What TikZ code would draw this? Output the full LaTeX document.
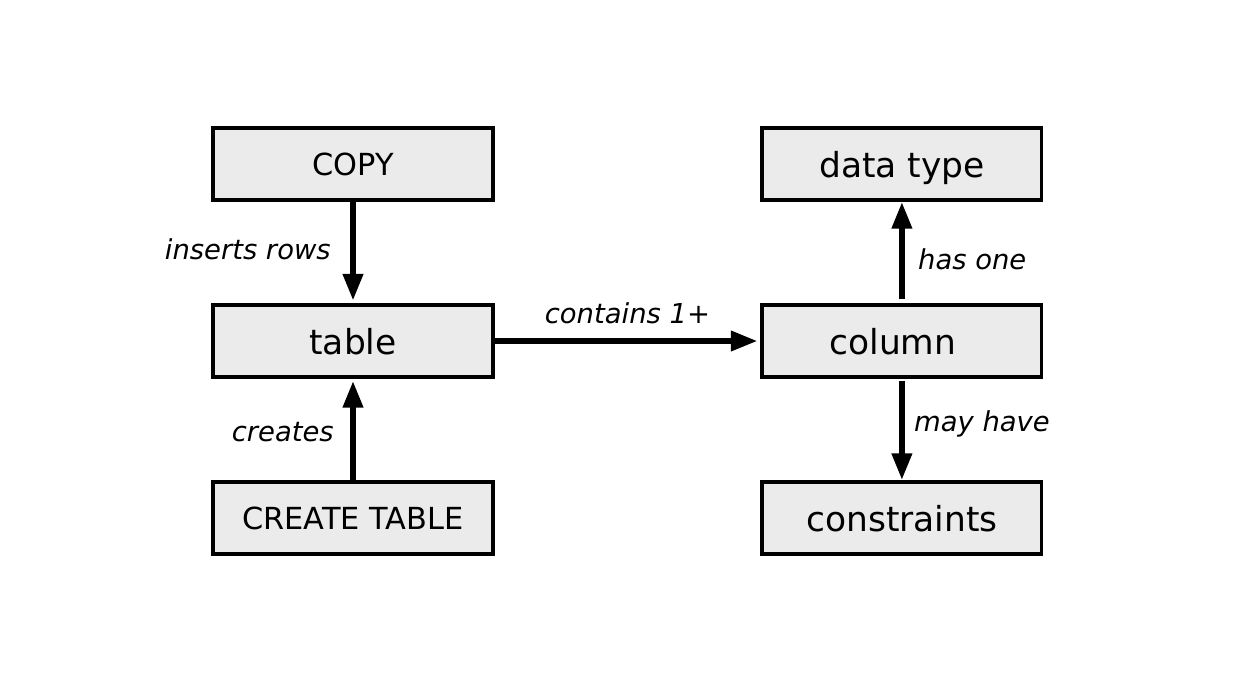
\documentclass[tikz,border=0pt]{standalone}
\usepackage{fontspec}
\setmainfont{DejaVu Sans}
\usepackage{tikz}
\usetikzlibrary{arrows.meta,positioning}
\definecolor{boxfill}{RGB}{235,235,235}
\tikzstyle{block} = [draw, rectangle, line width=1.8pt, fill=boxfill, minimum height=1.44cm, minimum width=5.6cm, text depth=0pt, font=\fontsize{19.6}{22}\selectfont]
\tikzstyle{stmt} = [block, font=\fontsize{17.3}{20}\selectfont]
\tikzstyle{lbl} = [inner sep=0pt, font=\fontsize{15.6}{18}\selectfont\itshape]

\begin{document}
\begin{tikzpicture}[x=0.02cm, y=-0.02cm, node distance=3.54cm, >={Triangle[length=0.54cm,width=0.38cm]}]
		\useasboundingbox (0,0) rectangle (1240,691);
		\node [block] (table) at (353,341) {table};
		\node [stmt, above of=table] (copy) {COPY};
		\node [stmt, below of=table] (create) {CREATE TABLE};
		\node [block, right of=table, node distance=10.98cm] (column) {column\kern0.36cm};
		\node [block, above of=column] (datatype) {data type};
		\node [block, below of=column] (constraints) {constraints};

		\draw [->, line width=3.7pt, shorten >=0.05cm] (copy) -- node[lbl, pos=0.47, left=0.38cm]{inserts rows} (table);
		\draw [->, line width=3.7pt, shorten >=0.04cm] (create) -- node[lbl, pos=0.47, left=0.32cm]{creates} (table);
		\draw [->, line width=3.7pt, shorten >=0.05cm] (table) -- node[lbl, above=0.28cm]{contains 1+} (column);
		\draw [->, line width=3.7pt, shorten <=0.08cm] (column) -- node[lbl, pos=0.43, right=0.26cm]{has one} (datatype);
		\draw [->, line width=3.7pt, shorten <=0.04cm] (column) -- node[lbl, pos=0.45, right=0.18cm]{may have} (constraints);
	\end{tikzpicture}
\end{document}
